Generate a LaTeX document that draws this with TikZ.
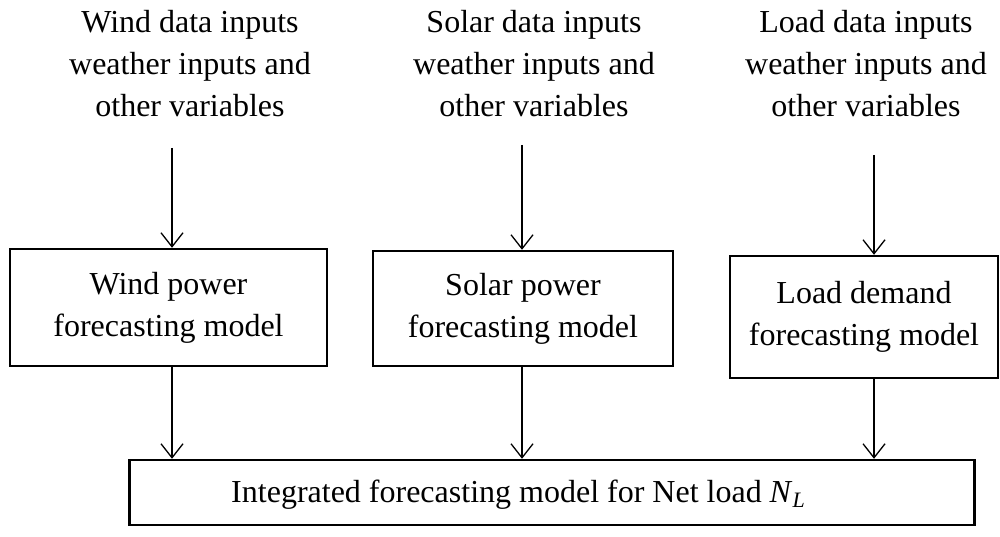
\documentclass[tikz,border=0pt]{standalone}
\usepackage{fontspec}
\setmainfont{Liberation Serif}
\usetikzlibrary{arrows.meta}
\begin{document}
\begin{tikzpicture}[x=1pt,y=-1pt,
  txt/.style={align=center,font=\fontsize{32}{42}\selectfont,inner sep=0pt},
  box/.style={draw,line width=2.4pt,inner sep=0pt,align=center,font=\fontsize{32}{42}\selectfont},
  arr/.style={line width=1.3pt,-{Straight Barb[length=14pt,width=22pt,line width=1.3pt]}}]
\useasboundingbox (0,0) rectangle (1000,537);
% top inputs (base = last line baseline)
\node[txt,anchor=base] (tw) at (190,117) {Wind data inputs\\weather inputs and\\other variables};
\node[txt,anchor=base] (ts) at (534,117) {Solar data inputs\\weather inputs and\\other variables};
\node[txt,anchor=base] (tl) at (866,117) {Load data inputs\\weather inputs and\\other variables};
% model boxes
\node[box,minimum width=317pt,minimum height=117pt] (wind) at (168.5,307.5) {Wind power\\forecasting model};
\node[box,minimum width=300pt,minimum height=115pt] (solar) at (523,308.5) {Solar power\\forecasting model};
\node[box,minimum width=268pt,minimum height=122pt] (load) at (864,317) {Load demand\\forecasting model};
% bottom box
\node[box,minimum width=845pt,minimum height=65pt] (net) at (552,492.5) {};
\node[txt,anchor=base] (nettxt) at (518,502) {Integrated forecasting model for Net load \textit{N}\raisebox{-0.35ex}{\fontsize{22}{22}\selectfont\textit{L}}};
% arrow start points
\coordinate (aw) at (172,148);
\coordinate (as) at (522,145);
\coordinate (al) at (874,155);
\draw[arr] (aw) -- (aw |- wind.north);
\draw[arr] (as) -- (as |- solar.north);
\draw[arr] (al) -- (al |- load.north);
\draw[arr] (aw |- wind.south) -- (aw |- net.north);
\draw[arr] (as |- solar.south) -- (as |- net.north);
\draw[arr] (al |- load.south) -- (al |- net.north);
\end{tikzpicture}
\end{document}
